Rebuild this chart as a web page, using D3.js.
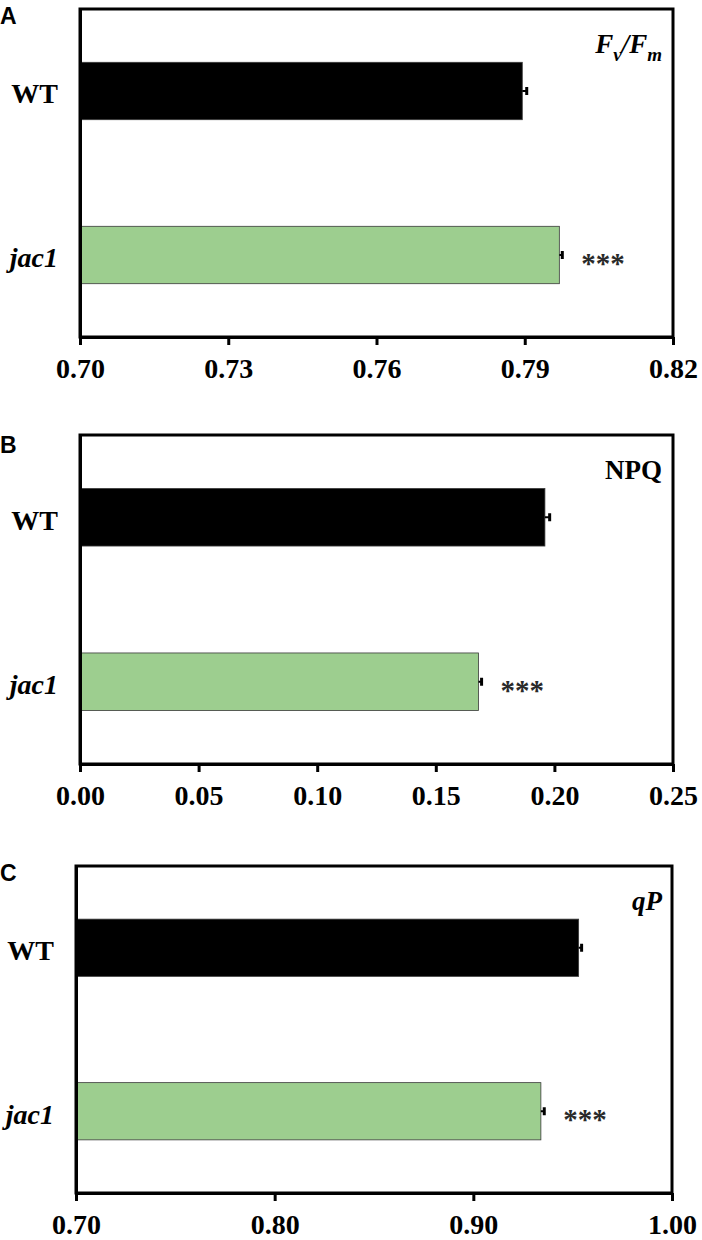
<!DOCTYPE html>
<html>
<head>
<meta charset="utf-8">
<script src="https://cdn.jsdelivr.net/npm/d3@7"></script>
<style>
  body { margin: 0; background: #fff; }
  text { fill: #000; }
</style>
</head>
<body>
<script>
// chlorophyll fluorescence, WT vs jac1

// values
const genotypes = ['WT', 'jac1']
const sigMarks = ['', '***']

const fvfmMean = [0.7895, 0.797]
const fvfmErr = [0.0009, 0.0006]
const fvfmTicks = [0.70, 0.73, 0.76, 0.79, 0.82]

const npqMean = [0.196, 0.168]
const npqErr = [0.002, 0.0013]
const npqTicks = [0.00, 0.05, 0.10, 0.15, 0.20, 0.25]

const qpMean = [0.953, 0.934]
const qpErr = [0.0015, 0.0017]
const qpTicks = [0.70, 0.80, 0.90, 1.00]

// where each panel sits on the page
let panels = [
  { letter: 'A', title: 'fvfm', mean: fvfmMean, err: fvfmErr, ticks: fvfmTicks,
    left: 80, right: 673, top: 9, bottom: 337, letterY: 24 },
  { letter: 'B', title: 'NPQ', mean: npqMean, err: npqErr, ticks: npqTicks,
    left: 80, right: 673, top: 435, bottom: 764, letterY: 453 },
  { letter: 'C', title: 'qP', mean: qpMean, err: qpErr, ticks: qpTicks,
    left: 76, right: 672, top: 866, bottom: 1193, letterY: 881 },
]

let m = {
  width: 702,
  height: 1240,
  green: '#9dce8f',
  serif: '"Liberation Serif", "Times New Roman", serif',
  sans: '"Liberation Sans", Arial, sans-serif',
}

let svg = d3.select('body')
  .append('svg')
  .attr('width', m.width)
  .attr('height', m.height)

panels.forEach(function(p) {
  let g = svg.append('g')

  let xScale = d3.scaleLinear()
    .domain([p.ticks[0], p.ticks[p.ticks.length - 1]])
    .range([p.left, p.right])

  let yScale = d3.scaleBand()
    .domain(genotypes)
    .range([p.top, p.bottom])
    .paddingInner(0.65)
    .paddingOuter(0.325)

  let rows = genotypes.map(function(d, i) {
    return { name: d, mean: p.mean[i], err: p.err[i], sig: sigMarks[i] }
  })

  // bars
  g.selectAll('rect.bar')
    .data(rows)
    .enter()
    .append('rect')
      .attr('class', 'bar')
      .attr('x', xScale(p.ticks[0]))
      .attr('y', function(d) { return yScale(d.name) })
      .attr('width', function(d) { return xScale(d.mean) - xScale(p.ticks[0]) })
      .attr('height', yScale.bandwidth())
      .attr('fill', function(d, i) { return i == 0 ? '#000' : m.green })
      .attr('stroke', '#3a3a3a')
      .attr('stroke-width', 0.8)

  // error bars (only the upper half shows)
  g.selectAll('line.err')
    .data(rows)
    .enter()
    .append('line')
      .attr('class', 'err')
      .attr('x1', function(d) { return xScale(d.mean) })
      .attr('x2', function(d) { return xScale(d.mean + d.err) })
      .attr('y1', function(d) { return yScale(d.name) + yScale.bandwidth() / 2 })
      .attr('y2', function(d) { return yScale(d.name) + yScale.bandwidth() / 2 })
      .attr('stroke', '#000')
      .attr('stroke-width', 2)

  g.selectAll('line.cap')
    .data(rows)
    .enter()
    .append('line')
      .attr('class', 'cap')
      .attr('x1', function(d) { return xScale(d.mean + d.err) })
      .attr('x2', function(d) { return xScale(d.mean + d.err) })
      .attr('y1', function(d) { return yScale(d.name) + yScale.bandwidth() / 2 - 4 })
      .attr('y2', function(d) { return yScale(d.name) + yScale.bandwidth() / 2 + 4 })
      .attr('stroke', '#000')
      .attr('stroke-width', 3)

  // significance stars
  g.selectAll('text.sig')
    .data(rows)
    .enter()
    .append('text')
      .attr('class', 'sig')
      .attr('x', function(d) { return xScale(d.mean + d.err) + 19 })
      .attr('y', function(d) { return yScale(d.name) + yScale.bandwidth() / 2 + 18 })
      .style('font-family', m.serif)
      .style('font-size', '29px')
      .style('font-weight', 'bold')
      .style('fill', '#2a2a2a')
      .text(function(d) { return d.sig })

  // plot frame
  g.append('rect')
    .attr('x', p.left)
    .attr('y', p.top)
    .attr('width', p.right - p.left)
    .attr('height', p.bottom - p.top)
    .attr('fill', 'none')
    .attr('stroke', '#000')
    .attr('stroke-width', 3)

  // x axis
  let xAxis = d3.axisBottom(xScale)
    .tickValues(p.ticks)
    .tickFormat(d3.format('.2f'))
    .tickSize(8)
    .tickSizeOuter(0)
    .tickPadding(13)

  let xg = g.append('g')
    .attr('transform', 'translate(0,' + p.bottom + ')')
    .call(xAxis)
  xg.select('.domain').attr('stroke-width', 3)
  xg.selectAll('.tick line').attr('stroke-width', 3)
  xg.selectAll('.tick text')
    .style('font-family', m.serif)
    .style('font-size', '28px')
    .style('font-weight', 'bold')

  // y axis (category names)
  let yAxis = d3.axisLeft(yScale)
    .tickSize(0)
    .tickSizeOuter(0)
    .tickPadding(22)

  let yg = g.append('g')
    .attr('transform', 'translate(' + p.left + ',0)')
    .call(yAxis)
  yg.select('.domain').attr('stroke-width', 3)
  yg.selectAll('.tick text')
    .attr('dy', '0.44em')
    .style('font-family', m.serif)
    .style('font-size', '28px')
    .style('font-weight', 'bold')
    .style('font-style', function(d) { return d == 'jac1' ? 'italic' : 'normal' })

  // parameter name, top right
  let title = g.append('text')
    .attr('x', 662)
    .attr('y', p.top + 44)
    .attr('text-anchor', 'end')
    .style('font-family', m.serif)
    .style('font-size', '27px')
    .style('font-weight', 'bold')

  if (p.title == 'fvfm') {
    title.style('font-style', 'italic')
    title.append('tspan').text('F')
    title.append('tspan').attr('dy', 8).style('font-size', '19px').text('v')
    title.append('tspan').attr('dy', -8).text('/F')
    title.append('tspan').attr('dy', 8).style('font-size', '19px').text('m')
  } else if (p.title == 'qP') {
    title.style('font-style', 'italic').text('qP')
  } else {
    title.text(p.title)
  }

  // panel letter
  svg.append('text')
    .attr('x', 0)
    .attr('y', p.letterY)
    .style('font-family', m.sans)
    .style('font-size', '23px')
    .style('font-weight', 'bold')
    .text(p.letter)
})
</script>
</body>
</html>
